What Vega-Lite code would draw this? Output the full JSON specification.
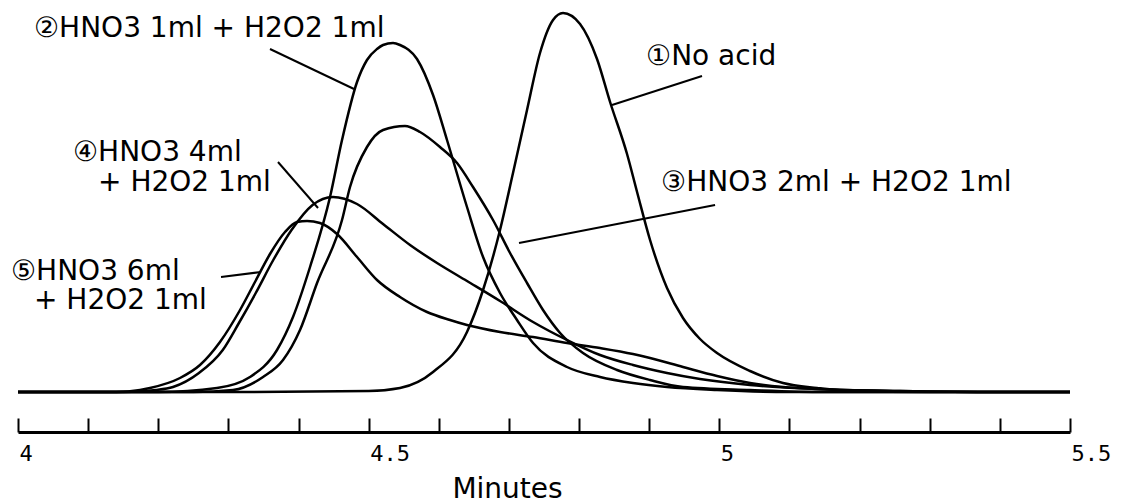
{
  "$schema": "https://vega.github.io/schema/vega-lite/v6.json",
  "autosize": {"type": "none"},
  "padding": {"top": 12, "left": 18, "right": 55, "bottom": 71},
  "width": 1052,
  "height": 420,
  "background": "white",
  "config": {"view": {"stroke": null}, "axis": {"grid": false}},
  "datasets": {
    "curves": [
      {"series": "1", "t": 4.0, "v": 0}, {"series": "1", "t": 4.3, "v": 0}, {"series": "1", "t": 4.5, "v": 1},
      {"series": "1", "t": 4.5447, "v": 4}, {"series": "1", "t": 4.5918, "v": 20}, {"series": "1", "t": 4.6402, "v": 60},
      {"series": "1", "t": 4.6631, "v": 102}, {"series": "1", "t": 4.6873, "v": 162}, {"series": "1", "t": 4.7058, "v": 219},
      {"series": "1", "t": 4.7258, "v": 282}, {"series": "1", "t": 4.7443, "v": 339}, {"series": "1", "t": 4.7629, "v": 372},
      {"series": "1", "t": 4.7771, "v": 379}, {"series": "1", "t": 4.8014, "v": 368}, {"series": "1", "t": 4.8256, "v": 333},
      {"series": "1", "t": 4.8442, "v": 290}, {"series": "1", "t": 4.8684, "v": 238}, {"series": "1", "t": 4.8827, "v": 200},
      {"series": "1", "t": 4.9012, "v": 152}, {"series": "1", "t": 4.9254, "v": 104}, {"series": "1", "t": 4.9482, "v": 74},
      {"series": "1", "t": 4.9725, "v": 53}, {"series": "1", "t": 4.9967, "v": 39}, {"series": "1", "t": 5.0438, "v": 21},
      {"series": "1", "t": 5.0908, "v": 9}, {"series": "1", "t": 5.1393, "v": 4}, {"series": "1", "t": 5.1864, "v": 1},
      {"series": "1", "t": 5.3, "v": 0}, {"series": "1", "t": 5.5, "v": 0},

      {"series": "2", "t": 4.0, "v": 0}, {"series": "2", "t": 4.2, "v": 0}, {"series": "2", "t": 4.2838, "v": 4},
      {"series": "2", "t": 4.3308, "v": 15}, {"series": "2", "t": 4.3693, "v": 42}, {"series": "2", "t": 4.3921, "v": 75},
      {"series": "2", "t": 4.4164, "v": 125}, {"series": "2", "t": 4.4449, "v": 195}, {"series": "2", "t": 4.462, "v": 252},
      {"series": "2", "t": 4.4834, "v": 310}, {"series": "2", "t": 4.4976, "v": 332}, {"series": "2", "t": 4.5119, "v": 343},
      {"series": "2", "t": 4.5205, "v": 347}, {"series": "2", "t": 4.5347, "v": 349}, {"series": "2", "t": 4.5447, "v": 347},
      {"series": "2", "t": 4.5689, "v": 333}, {"series": "2", "t": 4.5918, "v": 297}, {"series": "2", "t": 4.6117, "v": 252},
      {"series": "2", "t": 4.6402, "v": 185}, {"series": "2", "t": 4.6631, "v": 135}, {"series": "2", "t": 4.6873, "v": 99},
      {"series": "2", "t": 4.7115, "v": 72}, {"series": "2", "t": 4.7344, "v": 49}, {"series": "2", "t": 4.7828, "v": 25},
      {"series": "2", "t": 4.8299, "v": 15}, {"series": "2", "t": 4.8769, "v": 9}, {"series": "2", "t": 4.9254, "v": 5},
      {"series": "2", "t": 4.9967, "v": 2}, {"series": "2", "t": 5.1, "v": 0}, {"series": "2", "t": 5.5, "v": 0},

      {"series": "3", "t": 4.0, "v": 0}, {"series": "3", "t": 4.25, "v": 0}, {"series": "3", "t": 4.3066, "v": 2},
      {"series": "3", "t": 4.3494, "v": 15}, {"series": "3", "t": 4.3779, "v": 32}, {"series": "3", "t": 4.4021, "v": 62},
      {"series": "3", "t": 4.4264, "v": 109}, {"series": "3", "t": 4.462, "v": 172}, {"series": "3", "t": 4.4734, "v": 205},
      {"series": "3", "t": 4.4976, "v": 245}, {"series": "3", "t": 4.5205, "v": 262}, {"series": "3", "t": 4.5518, "v": 266},
      {"series": "3", "t": 4.5732, "v": 260}, {"series": "3", "t": 4.6017, "v": 245}, {"series": "3", "t": 4.626, "v": 229},
      {"series": "3", "t": 4.6488, "v": 205}, {"series": "3", "t": 4.6773, "v": 172}, {"series": "3", "t": 4.7016, "v": 139},
      {"series": "3", "t": 4.7258, "v": 109}, {"series": "3", "t": 4.7486, "v": 82}, {"series": "3", "t": 4.7729, "v": 59},
      {"series": "3", "t": 4.8056, "v": 39}, {"series": "3", "t": 4.8541, "v": 22}, {"series": "3", "t": 4.9012, "v": 12},
      {"series": "3", "t": 4.9482, "v": 5}, {"series": "3", "t": 5.0438, "v": 2}, {"series": "3", "t": 5.15, "v": 0},
      {"series": "3", "t": 5.5, "v": 0},

      {"series": "4", "t": 4.0, "v": 0}, {"series": "4", "t": 4.15, "v": 0}, {"series": "4", "t": 4.197, "v": 2},
      {"series": "4", "t": 4.221, "v": 5}, {"series": "4", "t": 4.258, "v": 19}, {"series": "4", "t": 4.292, "v": 42},
      {"series": "4", "t": 4.315, "v": 69}, {"series": "4", "t": 4.339, "v": 99}, {"series": "4", "t": 4.364, "v": 132},
      {"series": "4", "t": 4.39, "v": 162}, {"series": "4", "t": 4.42, "v": 187}, {"series": "4", "t": 4.4492, "v": 195},
      {"series": "4", "t": 4.4834, "v": 188}, {"series": "4", "t": 4.5205, "v": 168}, {"series": "4", "t": 4.559, "v": 147},
      {"series": "4", "t": 4.5975, "v": 129}, {"series": "4", "t": 4.6402, "v": 111}, {"series": "4", "t": 4.6873, "v": 91},
      {"series": "4", "t": 4.7344, "v": 70}, {"series": "4", "t": 4.7828, "v": 52}, {"series": "4", "t": 4.8299, "v": 37},
      {"series": "4", "t": 4.8769, "v": 27}, {"series": "4", "t": 4.9254, "v": 19}, {"series": "4", "t": 4.9725, "v": 13},
      {"series": "4", "t": 5.0438, "v": 7}, {"series": "4", "t": 5.1393, "v": 3}, {"series": "4", "t": 5.2577, "v": 1},
      {"series": "4", "t": 5.4, "v": 0}, {"series": "4", "t": 5.5, "v": 0},

      {"series": "5", "t": 4.0, "v": 0}, {"series": "5", "t": 4.14, "v": 0}, {"series": "5", "t": 4.174, "v": 2},
      {"series": "5", "t": 4.1882, "v": 4}, {"series": "5", "t": 4.231, "v": 14}, {"series": "5", "t": 4.2595, "v": 27},
      {"series": "5", "t": 4.288, "v": 50}, {"series": "5", "t": 4.3166, "v": 82}, {"series": "5", "t": 4.3379, "v": 110},
      {"series": "5", "t": 4.3593, "v": 138}, {"series": "5", "t": 4.3807, "v": 160}, {"series": "5", "t": 4.3978, "v": 170},
      {"series": "5", "t": 4.4121, "v": 171}, {"series": "5", "t": 4.4306, "v": 169}, {"series": "5", "t": 4.4549, "v": 158},
      {"series": "5", "t": 4.4834, "v": 135}, {"series": "5", "t": 4.5119, "v": 112}, {"series": "5", "t": 4.5447, "v": 95},
      {"series": "5", "t": 4.5832, "v": 80}, {"series": "5", "t": 4.616, "v": 72}, {"series": "5", "t": 4.6402, "v": 67},
      {"series": "5", "t": 4.6873, "v": 60}, {"series": "5", "t": 4.7344, "v": 55}, {"series": "5", "t": 4.7828, "v": 49},
      {"series": "5", "t": 4.8299, "v": 44}, {"series": "5", "t": 4.8769, "v": 38}, {"series": "5", "t": 4.9012, "v": 34},
      {"series": "5", "t": 4.9482, "v": 25}, {"series": "5", "t": 4.9967, "v": 16}, {"series": "5", "t": 5.0438, "v": 9},
      {"series": "5", "t": 5.0908, "v": 5}, {"series": "5", "t": 5.1393, "v": 3}, {"series": "5", "t": 5.2577, "v": 1},
      {"series": "5", "t": 5.4, "v": 0}, {"series": "5", "t": 5.5, "v": 0}
    ],
    "leaders": [
      {"t": 4.3593, "v": 343, "t2": 4.4791, "v2": 303},
      {"t": 4.3707, "v": 230, "t2": 4.4278, "v2": 184},
      {"t": 4.2895, "v": 115, "t2": 4.3465, "v2": 120},
      {"t": 4.847, "v": 287, "t2": 4.9753, "v2": 316},
      {"t": 4.7144, "v": 149, "t2": 4.9939, "v2": 187}
    ],
    "labels": [
      {"t": 4.0228, "v": 355, "label": "②HNO3 1ml + H2O2 1ml"},
      {"t": 4.0784, "v": 231, "label": "④HNO3 4ml"},
      {"t": 4.1141, "v": 201, "label": "+ H2O2 1ml"},
      {"t": 3.99, "v": 112, "label": "⑤HNO3 6ml"},
      {"t": 4.0228, "v": 83, "label": "+ H2O2 1ml"},
      {"t": 4.8955, "v": 327, "label": "①No acid"},
      {"t": 4.9169, "v": 201, "label": "③HNO3 2ml + H2O2 1ml"}
    ]
  },
  "encoding": {
    "x": {
      "field": "t", "type": "quantitative",
      "scale": {"domain": [4, 5.5], "nice": false, "zero": false},
      "axis": {
        "title": "Minutes",
        "values": [4.0, 4.1, 4.2, 4.3, 4.4, 4.5, 4.6, 4.7, 4.8, 4.9, 5.0, 5.1, 5.2, 5.3, 5.4, 5.5],
        "labelExpr": "round(datum.value*10) % 5 == 0 ? format(datum.value, '.1~f') : ''",
        "domainColor": "black", "domainWidth": 3,
        "tickColor": "black", "tickWidth": 2, "tickSize": -14,
        "labelFont": "DejaVu Sans Mono", "labelFontSize": 22, "labelColor": "black",
        "labelAlign": "left", "labelBaseline": "top", "labelPadding": 25, "labelOffset": 1,
        "labelOverlap": false, "labelFlush": false, "labelBound": false,
        "titleFont": "DejaVu Sans", "titleFontSize": 28, "titleFontWeight": "normal", "titleColor": "black",
        "titleX": 489, "titleY": 65, "titleAlign": "center", "titleBaseline": "alphabetic"
      }
    },
    "y": {
      "field": "v", "type": "quantitative",
      "scale": {"domain": [-40, 380], "nice": false, "zero": false},
      "axis": null
    }
  },
  "layer": [
    {
      "data": {"name": "curves"},
      "mark": {"type": "line", "interpolate": "monotone", "color": "black", "strokeWidth": 2.5},
      "encoding": {"detail": {"field": "series"}}
    },
    {
      "data": {"name": "leaders"},
      "mark": {"type": "rule", "color": "black", "strokeWidth": 2},
      "encoding": {"x2": {"field": "t2"}, "y2": {"field": "v2"}}
    },
    {
      "data": {"name": "labels"},
      "mark": {"type": "text", "align": "left", "baseline": "alphabetic", "font": "DejaVu Sans", "fontSize": 28, "color": "black"},
      "encoding": {"text": {"field": "label"}}
    }
  ]
}
